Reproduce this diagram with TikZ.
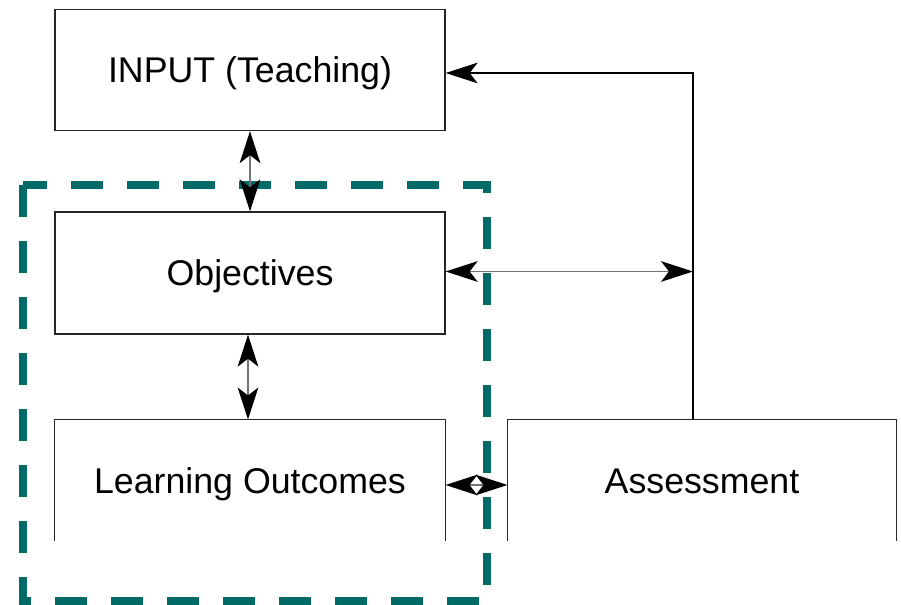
\documentclass[tikz,border=0pt]{standalone}
\usepackage{fontspec}
\setmainfont{Liberation Sans}
\usetikzlibrary{arrows.meta,calc}
\definecolor{teal}{RGB}{0,107,102}
\tikzset{every picture/.style={line width=0.75pt}}
\tikzset{
  blockbox/.style={minimum width=292.5pt,minimum height=90.75pt,inner sep=0pt,
    text height=19.2pt,text depth=0pt,font=\fontsize{26.8}{32}\selectfont},
  boxline/.style={draw=black!85,line width=1pt},
  bigtip/.tip={Stealth[length=24pt,width=15.5pt,inset=6pt,color=black]},
  link/.style={draw=black!55,line width=1.1pt}
}

\begin{document}
\begin{tikzpicture}[x=0.75pt,y=0.75pt,yscale=-1,xscale=1]
\useasboundingbox (0,0) rectangle (901,605);

%Dashed frame
\draw [teal,line width=6pt,dash pattern=on 24pt off 18pt,dash phase=6pt] (23,185) -- (487,185) -- (487,601) -- (23,601) -- cycle ;

% Text Node
\node [blockbox,boxline] (input) at (250,70) {INPUT (Teaching)};
% Text Node
\node [blockbox,boxline,minimum height=91.5pt] (obj) at (250,273) {Objectives};
% Text Node
\node [blockbox] (lo) at (250,480.5) {Learning Outcomes};
% Text Node
\node [blockbox,minimum width=291pt] (assess) at (702,480.5) {Assessment};

%Open boxes
\draw [boxline] (lo.south west) -- (lo.north west) -- (lo.north east) -- (lo.south east) ;
\draw [boxline] (assess.south west) -- (assess.north west) -- (assess.north east) -- (assess.south east) ;

%Feedback corner
\coordinate (turn) at (693,73) ;

%Connectors
\draw [link,bigtip-bigtip] (input.south) -- (obj.north) ;
\draw [link,bigtip-bigtip] ([xshift=-1.5pt]obj.south) -- ([xshift=-1.5pt]lo.north) ;
\draw [link,bigtip-bigtip] ($(obj.east)+(0,-1.5)$) -- ($(turn |- obj.east)+(0,-1.5)$) ;
\draw [link,bigtip-bigtip] ($(lo.east)+(0,4.5)$) -- ($(assess.west)+(0,4.5)$) ;
\draw [draw=black,line width=1pt,-bigtip] (turn |- assess.north) -- (turn) -- (turn -| input.east) ;
\end{tikzpicture}
\end{document}
